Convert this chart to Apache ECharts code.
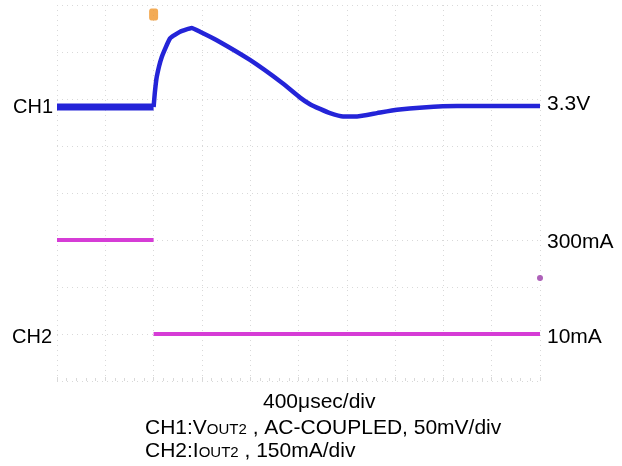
<!DOCTYPE html>
<html>
<head>
<meta charset="utf-8">
<script src="https://cdn.jsdelivr.net/npm/echarts@6/dist/echarts.min.js"></script>
<style>html,body{margin:0;padding:0;background:#fff}#c{width:622px;height:466px}</style>
</head>
<body>
<div id="c"></div>
<script>
// time in µs (400 µs/div, 10 div), trigger at 800 µs
const timeTicks = [0, 400, 800, 1200, 1600, 2000, 2400, 2800, 3200, 3600, 4000];
// CH1: VOUT2 AC-coupled, mV relative to 3.3 V
const ch1Pre = [[0, 0], [800, 0]];
const ch1Post = [[800, 0], [810, 15], [826, 32], [867, 53], [936, 73], [1019, 80], [1116, 84], [1184, 80], [1323, 71], [1598, 50], [1871, 25], [2013, 10], [2095, 3], [2178, -2], [2261, -6.5], [2369, -10], [2485, -10], [2650, -6.5], [2816, -3], [3031, -0.5], [3313, 1], [4000, 1]];
// CH2: IOUT2, mA
const ch2Pre = [[0, 300], [800, 300]];
const ch2Post = [[800, 10], [4000, 10]];
const triggerMark = [[800, 7.8]];
const ch2Marker = [[4000, 2.19]];
const rightLabels = ['3.3V', '300mA', '10mA'];
const leftLabels = ['CH1', 'CH2'];

const chart = echarts.init(document.getElementById('c'), null, {renderer: 'canvas'});
const F = 'Liberation Sans, Arial, sans-serif';
const gridCol = '#d9d9d9';
function txt(t, x, y, size) {
  return {type: 'text', x: x, y: y, style: {text: t, font: size + 'px ' + F, fill: '#000', textAlign: 'left', textVerticalAlign: 'middle'}};
}
function richTxt(main, sub, rest, x, y) {
  return {type: 'text', x: x, y: y, style: {
    text: '{a|' + main + '}{s|' + sub + '}{a|' + rest + '}',
    textVerticalAlign: 'middle',
    rich: {a: {font: '21px ' + F, fill: '#000'}, s: {font: '15px ' + F, fill: '#000', padding: [3, 0, 0, 0]}}}};
}
chart.setOption({
  animation: false,
  backgroundColor: '#fff',
  grid: {left: 57, right: 82, top: 5, bottom: 85},
  xAxis: {
    type: 'value', min: 0, max: 4000, interval: 400,
    axisLine: {show: false},
    axisTick: {show: true, inside: true, length: 4, lineStyle: {color: gridCol}},
    minorTick: {show: true, splitNumber: 5, length: 3, lineStyle: {color: gridCol}},
    axisLabel: {show: false},
    splitLine: {show: true, lineStyle: {type: [1, 4], color: gridCol}}
  },
  yAxis: [
    {type: 'value', min: 0, max: 8, interval: 1, axisLine: {show: false}, axisTick: {show: false}, axisLabel: {show: false},
      splitLine: {show: true, lineStyle: {type: [1, 4], color: gridCol}}},
    {type: 'value', min: -291.5, max: 108.5, show: false, splitLine: {show: false}},
    {type: 'value', min: -135, max: 1025, show: false, splitLine: {show: false}}
  ],
  series: [
    {type: 'line', yAxisIndex: 2, data: ch2Pre, symbol: 'none', lineStyle: {color: '#d63cd6', width: 4}},
    {type: 'line', yAxisIndex: 2, data: ch2Post, symbol: 'none', lineStyle: {color: '#d63cd6', width: 4}},
    {type: 'line', yAxisIndex: 1, data: ch1Pre, symbol: 'none', lineStyle: {color: '#2424d8', width: 7}},
    {type: 'line', yAxisIndex: 1, data: ch1Post, symbol: 'none', smooth: 0.12, lineStyle: {color: '#2424d8', width: 4.5}},
    {type: 'scatter', yAxisIndex: 0, data: triggerMark, symbol: 'roundRect', symbolSize: [9, 12], itemStyle: {color: '#f0962c'}},
    {type: 'scatter', yAxisIndex: 0, data: ch2Marker, symbol: 'circle', symbolSize: 6, itemStyle: {color: '#9a3aa8'}}
  ],
  graphic: [
    txt(leftLabels[0], 13, 107, 20),
    txt(leftLabels[1], 12, 337, 20),
    txt(rightLabels[0], 547, 104, 21),
    txt(rightLabels[1], 547, 242, 21),
    txt(rightLabels[2], 547, 337, 21),
    txt('400μsec/div', 263, 402, 21),
    richTxt('CH1:V', 'OUT2', ' , AC-COUPLED, 50mV/div', 145, 428),
    richTxt('CH2:I', 'OUT2', ' , 150mA/div', 145, 451)
  ]
});
</script>
</body>
</html>
